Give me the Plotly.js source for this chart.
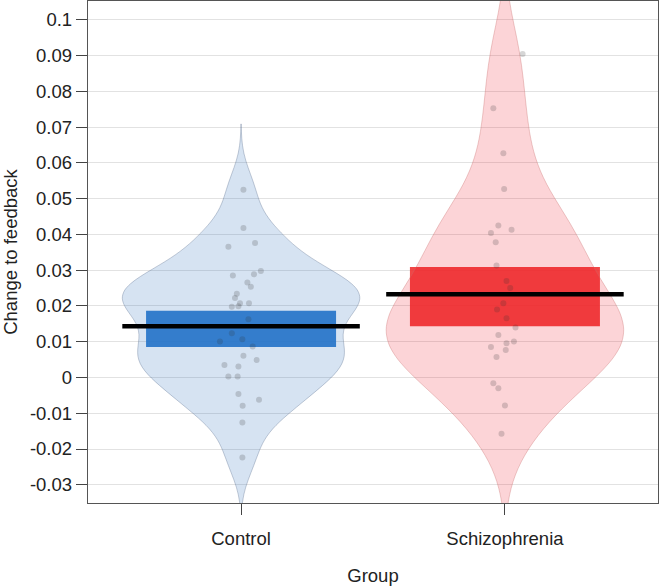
<!DOCTYPE html>
<html>
<head>
<meta charset="utf-8">
<script src="https://cdn.plot.ly/plotly-3.0.1.min.js"></script>
<style>html,body{margin:0;padding:0;background:#fff;}#chart{width:661px;height:588px;}</style>
</head>
<body>
<div id="chart"></div>
<script>
// ---- data ----
const groups = ["Control", "Schizophrenia"];

const controlValues = [0.0525, 0.0418, 0.0366, 0.0376, 0.0285, 0.0289, 0.0298, 0.0266, 0.0254, 0.0234,
  0.0222, 0.0208, 0.0208, 0.0198, 0.0199, 0.0163, 0.0124, 0.0107, 0.0101, 0.0087,
  0.0061, 0.0049, 0.0035, 0.0031, 0.0003, 0.0003, -0.0046, -0.0062, -0.0079, -0.0126, -0.0224];
const controlJitter = [0.009, 0.009, -0.048, 0.053, -0.031, 0.049, 0.075, 0.024, 0.037, -0.016,
  -0.023, -0.004, 0.030, -0.035, -0.010, 0.028, -0.035, 0.005, -0.080, 0.044,
  0.009, 0.059, -0.063, -0.010, -0.048, -0.013, -0.010, 0.068, 0.006, 0.005, 0.005];

const schizoValues = [0.0905, 0.0753, 0.0627, 0.0527, 0.0425, 0.0404, 0.0413, 0.0378, 0.0313, 0.0270,
  0.0250, 0.0208, 0.0190, 0.0166, 0.0140, 0.0119, 0.0096, 0.0101, 0.0085, 0.0077,
  0.0057, -0.0016, -0.0030, -0.0078, -0.0157];
const schizoJitter = [0.067, -0.044, -0.006, -0.003, -0.025, -0.053, 0.025, -0.035, -0.032, 0.006,
  0.020, -0.006, -0.030, 0.006, 0.040, -0.025, 0.006, 0.034, -0.053, 0.003,
  -0.032, -0.044, -0.025, 0.000, -0.013];

const groupMeans = [0.0143, 0.0233];
const intervalLow = [0.0085, 0.0143];
const intervalHigh = [0.0187, 0.0309];

// density smoothing adjustment per group (read from bean shapes)
const bandwidthAdjust = [0.8, 1.0];

const yTickVals = [-0.03, -0.02, -0.01, 0, 0.01, 0.02, 0.03, 0.04, 0.05, 0.06, 0.07, 0.08, 0.09, 0.1];
const yTickText = ["-0.03", "-0.02", "-0.01", "0", "0.01", "0.02", "0.03", "0.04", "0.05", "0.06", "0.07", "0.08", "0.09", "0.1"];

// ---- styles ----
const beanFill = ["rgba(12,91,176,0.17)", "rgba(238,0,17,0.17)"];
const beanLine = ["rgba(90,110,140,0.35)", "rgba(200,110,110,0.35)"];
const boxFill = ["rgba(40,120,205,0.9)", "rgba(240,50,50,0.9)"];

function quantile(sorted, p) {
  const h = (sorted.length - 1) * p;
  const lo = Math.floor(h), hi = Math.ceil(h);
  return sorted[lo] + (sorted[hi] - sorted[lo]) * (h - lo);
}
function nrd0(v) {
  const n = v.length;
  const m = v.reduce((a, b) => a + b, 0) / n;
  const sd = Math.sqrt(v.reduce((a, b) => a + (b - m) * (b - m), 0) / (n - 1));
  const s = v.slice().sort((a, b) => a - b);
  const iqr = quantile(s, 0.75) - quantile(s, 0.25);
  return 0.9 * Math.min(sd, iqr / 1.34) * Math.pow(n, -0.2);
}

const allValues = [controlValues, schizoValues];
const allJitter = [controlJitter, schizoJitter];
const traces = [];

allValues.forEach((vals, i) => {
  const pos = i + 1;
  const bw = nrd0(vals) * bandwidthAdjust[i];
  traces.push({
    type: "violin",
    x0: pos,
    y: vals,
    width: 0.9,
    bandwidth: bw,
    spanmode: "manual",
    span: [Math.min(...vals) - 3 * bw, Math.max(...vals) + 3 * bw],
    points: false,
    box: {visible: false},
    meanline: {visible: false},
    fillcolor: beanFill[i],
    line: {color: beanLine[i], width: 1},
    hoverinfo: "skip",
    showlegend: false
  });
});

allValues.forEach((vals, i) => {
  const pos = i + 1;
  traces.push({
    type: "scatter",
    mode: "markers",
    x: allJitter[i].map(j => pos + j),
    y: vals,
    marker: {size: 6, color: "rgba(50,50,50,0.2)"},
    hoverinfo: "skip",
    showlegend: false
  });
});

traces.push({
  type: "bar",
  x: groups.map((g, i) => i + 1),
  base: intervalLow,
  y: intervalHigh.map((h, i) => h - intervalLow[i]),
  width: 0.72,
  marker: {color: boxFill, line: {width: 0}},
  hoverinfo: "skip",
  showlegend: false
});

groupMeans.forEach((m, i) => {
  const pos = i + 1;
  traces.push({
    type: "scatter",
    mode: "lines",
    x: [pos - 0.45, pos + 0.45],
    y: [m, m],
    line: {color: "#000", width: 4.5},
    hoverinfo: "skip",
    showlegend: false
  });
});

const font = {family: "Liberation Sans, Arial, sans-serif", size: 18.5, color: "#222"};

const layout = {
  width: 661,
  height: 588,
  margin: {l: 88, r: 3, t: 1, b: 85},
  paper_bgcolor: "#fff",
  plot_bgcolor: "#fff",
  font: font,
  violinmode: "overlay",
  barmode: "overlay",
  showlegend: false,
  xaxis: {
    range: [0.42, 2.58],
    tickvals: groups.map((g, i) => i + 1),
    ticktext: groups,
    ticks: "outside",
    ticklen: 11,
    tickcolor: "#444",
    ticklabelstandoff: 8,
    showline: true,
    linecolor: "#555",
    linewidth: 1.2,
    mirror: true,
    showgrid: false,
    zeroline: false,
    tickfont: font,
    title: {text: "Group", font: font, standoff: 20}
  },
  yaxis: {
    range: [-0.0351, 0.1053],
    tickvals: yTickVals,
    ticktext: yTickText,
    ticks: "outside",
    ticklen: 11,
    tickcolor: "#444",
    showline: true,
    linecolor: "#555",
    linewidth: 1.2,
    mirror: true,
    showgrid: true,
    gridcolor: "#e2e2e2",
    gridwidth: 1,
    zeroline: false,
    tickfont: font,
    title: {text: "Change to feedback", font: font, standoff: 11}
  }
};

Plotly.newPlot("chart", traces, layout, {displayModeBar: false, staticPlot: true});
</script>
</body>
</html>
